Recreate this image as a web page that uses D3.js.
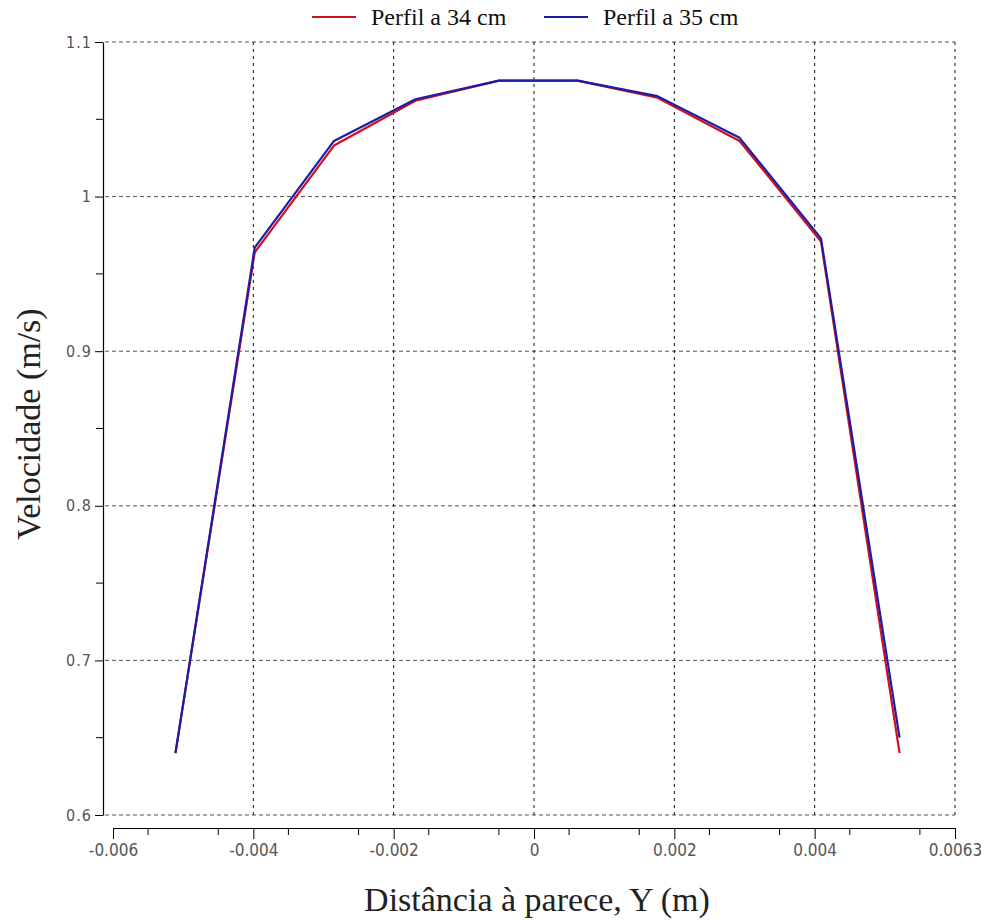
<!DOCTYPE html>
<html>
<head>
<meta charset="utf-8">
<script src="https://cdn.jsdelivr.net/npm/d3@7"></script>
<style>
  body { margin: 0; background: #fff; }
  svg { display: block; }
</style>
</head>
<body>
<svg id="chart"></svg>
<script>
// data
const posY = [-0.00511, -0.00398, -0.00285, -0.00169, -0.0005, 0.00062, 0.00176, 0.00293, 0.00409, 0.00521];
const vel34 = [0.640, 0.964, 1.033, 1.062, 1.075, 1.075, 1.064, 1.036, 0.971, 0.640];
const vel35 = [0.640, 0.967, 1.036, 1.063, 1.075, 1.075, 1.065, 1.038, 0.973, 0.650];
const seriesNames = ['Perfil a 34 cm', 'Perfil a 35 cm'];
const xTicks = [-0.006, -0.004, -0.002, 0, 0.002, 0.004, 0.006];
const xTickLabels = ['-0.006', '-0.004', '-0.002', '0', '0.002', '0.004', '0.0063'];
const yTicks = [0.6, 0.7, 0.8, 0.9, 1.0, 1.1];
const yTickLabels = ['0.6', '0.7', '0.8', '0.9', '1', '1.1'];

const width = 992;
const height = 922;

const svg = d3.select('#chart')
  .attr('width', width)
  .attr('height', height);

// plot frame
const plotLeft = 113, plotRight = 955, plotTop = 42, plotBottom = 815;
const yAxisX = 103, xAxisY = 828;

const x = d3.scaleLinear().domain([-0.006, 0.006]).range([plotLeft, plotRight]);
const y = d3.scaleLinear().domain([0.6, 1.1]).range([plotBottom, plotTop]);

// grid
const grid = svg.append('g');
grid.selectAll('.hgrid').data(yTicks).join('line')
  .attr('class', 'hgrid')
  .attr('x1', yAxisX + 2).attr('x2', plotRight)
  .attr('y1', (d) => y(d)).attr('y2', (d) => y(d))
  .attr('stroke', '#555')
  .attr('stroke-width', 1)
  .attr('stroke-dasharray', '4,3');
grid.selectAll('.vgrid').data(xTicks.slice(1)).join('line')
  .attr('class', 'vgrid')
  .attr('x1', (d) => x(d)).attr('x2', (d) => x(d))
  .attr('y1', plotTop).attr('y2', plotBottom)
  .attr('stroke', '#111')
  .attr('stroke-width', 1)
  .attr('stroke-dasharray', '3,4');

// y axis
const yaxis = d3.axisLeft(y)
  .tickValues(yTicks)
  .tickFormat((d, i) => yTickLabels[i])
  .tickSize(8)
  .tickSizeOuter(0)
  .tickPadding(3);
const gy = svg.append('g')
  .attr('transform', `translate(${yAxisX},0)`)
  .call(yaxis);
gy.append('g').selectAll('line').data(d3.range(0.65, 1.1, 0.1)).join('line')
  .attr('x1', -7).attr('x2', 0)
  .attr('y1', (d) => y(d)).attr('y2', (d) => y(d))
  .attr('stroke', '#000');

// x axis
const xaxis = d3.axisBottom(x)
  .tickValues(xTicks)
  .tickFormat((d, i) => xTickLabels[i])
  .tickSize(11)
  .tickSizeOuter(0)
  .tickPadding(5);
const gx = svg.append('g')
  .attr('transform', `translate(0,${xAxisY})`)
  .call(xaxis);
gx.append('g').selectAll('line')
  .data(d3.range(-0.0055, 0.006, 0.0005).filter((d) => Math.abs(Math.round(d * 1000) - d * 1000) > 1e-6))
  .join('line')
  .attr('x1', (d) => x(d)).attr('x2', (d) => x(d))
  .attr('y1', 0).attr('y2', 7)
  .attr('stroke', '#000');

[gx, gy].forEach((g) => {
  g.select('.domain').attr('stroke', '#000').attr('stroke-width', 1.2);
  g.selectAll('.tick line').attr('stroke', '#000');
  g.selectAll('.tick text')
    .attr('fill', '#555')
    .style('font-family', '"Liberation Sans Narrow", "DejaVu Sans Condensed", Arial, sans-serif');
});
gx.selectAll('.tick text').style('font-size', '17px');
gy.selectAll('.tick text').style('font-size', '16px').style('letter-spacing', '1px');

// lines
const colors = ['#d0101c', '#1c1ca8'];
const line = d3.line()
  .x((d) => x(d[0]))
  .y((d) => y(d[1]));
const series = [vel34, vel35].map((vals) => posY.map((p, i) => [p, vals[i]]));
svg.append('g').selectAll('path').data(series).join('path')
  .attr('d', line)
  .attr('fill', 'none')
  .attr('stroke', (d, i) => colors[i])
  .attr('stroke-width', 2.2)
  .attr('stroke-linejoin', 'round');

// legend
const legendX = [312, 544];
const legend = svg.append('g').selectAll('g').data(seriesNames).join('g')
  .attr('transform', (d, i) => `translate(${legendX[i]},17)`);
legend.append('line')
  .attr('x1', 0).attr('x2', 44)
  .attr('stroke', (d, i) => colors[i])
  .attr('stroke-width', 2);
legend.append('text')
  .attr('x', 59).attr('y', 8)
  .text((d) => d)
  .style('font-family', '"Liberation Serif", "Times New Roman", serif')
  .style('font-size', '24px')
  .attr('fill', '#111');

// titles
svg.append('text')
  .attr('x', 537).attr('y', 911)
  .attr('text-anchor', 'middle')
  .text('Distância à parece, Y (m)')
  .style('font-family', '"Liberation Serif", "Times New Roman", serif')
  .style('font-size', '34px')
  .attr('fill', '#222');
svg.append('text')
  .attr('transform', 'translate(40,424) rotate(-90)')
  .attr('text-anchor', 'middle')
  .text('Velocidade (m/s)')
  .style('font-family', '"Liberation Serif", "Times New Roman", serif')
  .style('font-size', '34px')
  .attr('fill', '#222');
</script>
</body>
</html>
